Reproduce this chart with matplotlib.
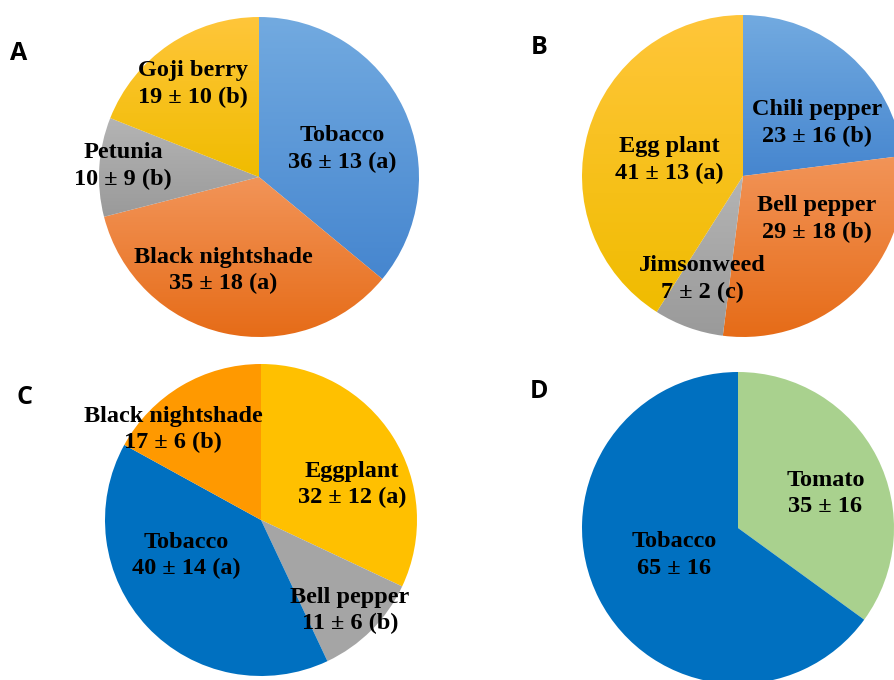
import matplotlib.pyplot as plt
import matplotlib.colors as mcolors
import numpy as np

# Panel A
a_names = ["Tobacco", "Black nightshade", "Petunia", "Goji berry"]
a_vals = [36, 35, 10, 19]
a_err = [13, 18, 9, 10]
a_grp = ["a", "a", "b", "b"]

# Panel B
b_names = ["Chili pepper", "Bell pepper", "Jimsonweed", "Egg plant"]
b_vals = [23, 29, 7, 41]
b_err = [16, 18, 2, 13]
b_grp = ["b", "b", "c", "a"]

# Panel C
c_names = ["Eggplant", "Bell pepper", "Tobacco", "Black nightshade"]
c_vals = [32, 11, 40, 17]
c_err = [12, 6, 14, 6]
c_grp = ["a", "b", "a", "b"]

# Panel D
d_names = ["Tomato", "Tobacco"]
d_vals = [35, 65]
d_err = [16, 16]

# gradient pairs (top, bottom) for A and B, flat colours for C and D
grad = {
    "blue": ("#72AAE0", "#4686CF"),
    "orange": ("#F29458", "#E66C18"),
    "gray": ("#B4B4B4", "#9A9A9A"),
    "yellow": ("#FFC63A", "#F0BC00"),
}
a_cols = ["blue", "orange", "gray", "yellow"]
b_cols = ["blue", "orange", "gray", "yellow"]
c_cols = ["#FFC000", "#A5A5A5", "#0070C0", "#FF9900"]
d_cols = ["#A9D18E", "#0070C0"]

# label positions in pie units (x, y) relative to centre
a_pos = [(0.52, 0.175), (-0.225, -0.584), (-0.85, 0.07), (-0.41, 0.58)]
b_pos = [(0.46, 0.33), (0.46, -0.267), (-0.255, -0.64), (-0.46, 0.10)]
c_pos = [(0.583, 0.228), (0.57, -0.58), (-0.48, -0.228), (-0.564, 0.58)]
d_pos = [(0.56, 0.22), (-0.41, -0.173)]

W, H = 894, 680
fig = plt.figure(figsize=(W / 100, H / 100), dpi=100)
fig.patch.set_facecolor("white")

lab_font = dict(family="Liberation Serif", fontweight="bold", fontsize=17.5,
                ha="center", va="center", color="black", linespacing=1.33)


def pie_axes(cx, cy, r):
    # axes in pixel units mapped so that the pie has radius 1
    ax = fig.add_axes([(cx - r) / W, 1 - (cy + r) / H, 2 * r / W, 2 * r / H])
    ax.set_xlim(-1, 1)
    ax.set_ylim(-1, 1)
    ax.set_aspect("auto")
    ax.axis("off")
    return ax


def draw_pie(ax, vals, colors, gradient):
    if gradient:
        wedges, _ = ax.pie(vals, startangle=90, counterclock=False, radius=1,
                           colors=["none"] * len(vals),
                           wedgeprops=dict(linewidth=0))
        for w, c in zip(wedges, colors):
            top, bot = grad[c]
            cmap = mcolors.LinearSegmentedColormap.from_list("g", [bot, top])
            ext = w.get_path().get_extents()
            img = np.linspace(0, 1, 100).reshape(-1, 1)
            im = ax.imshow(img, cmap=cmap, origin="lower", aspect="auto",
                           extent=[ext.x0, ext.x1, ext.y0, ext.y1], zorder=1)
            im.set_clip_path(w)
    else:
        ax.pie(vals, startangle=90, counterclock=False, radius=1, colors=colors,
               wedgeprops=dict(linewidth=0))
    ax.set_xlim(-1, 1)
    ax.set_ylim(-1, 1)


# A
ax = pie_axes(259, 177, 160)
draw_pie(ax, a_vals, a_cols, True)
for n, v, e, g, p in zip(a_names, a_vals, a_err, a_grp, a_pos):
    ax.text(p[0], p[1], f"{n}\n{v} ± {e} ({g})", zorder=5, **lab_font)

# B
ax = pie_axes(743, 176, 161)
draw_pie(ax, b_vals, b_cols, True)
for n, v, e, g, p in zip(b_names, b_vals, b_err, b_grp, b_pos):
    ax.text(p[0], p[1], f"{n}\n{v} ± {e} ({g})", zorder=5, **lab_font)

# C
ax = pie_axes(261, 520, 156)
draw_pie(ax, c_vals, c_cols, False)
for n, v, e, g, p in zip(c_names, c_vals, c_err, c_grp, c_pos):
    ax.text(p[0], p[1], f"{n}\n{v} ± {e} ({g})", zorder=5, **lab_font)

# D
ax = pie_axes(738, 528, 156)
draw_pie(ax, d_vals, d_cols, False)
for n, v, e, p in zip(d_names, d_vals, d_err, d_pos):
    ax.text(p[0], p[1], f"{n}\n{v} ± {e}", zorder=5, **lab_font)

# panel letters
for letter, x, y in [("A", 19, 53), ("B", 539, 48), ("C", 24, 398), ("D", 539, 392)]:
    fig.text(x / W, 1 - y / H, letter, fontsize=18, fontweight="bold",
             family="Open Sans", ha="center", va="center")

fig.savefig("out.png", dpi=100)
